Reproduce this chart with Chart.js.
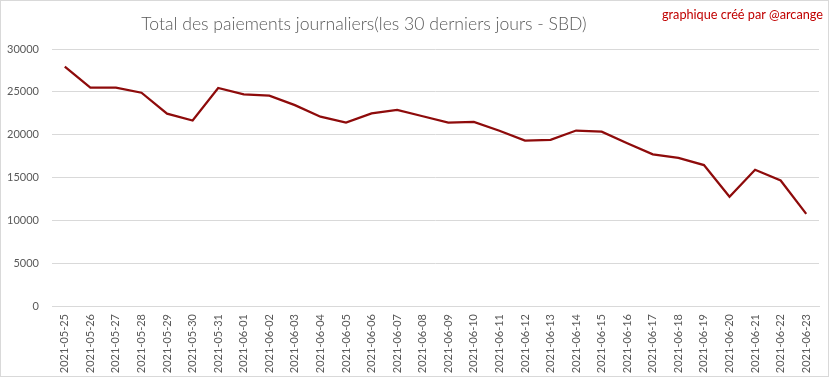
<!DOCTYPE html>
<html>
<head>
<meta charset="utf-8">
<script src="https://cdn.jsdelivr.net/npm/chart.js@4/dist/chart.umd.min.js"></script>
<style>
  html, body { margin: 0; padding: 0; background: #ffffff; }
  #wrap { position: relative; width: 833px; height: 379px; }
  #frame { position: absolute; left: 0; top: 0; width: 827px; height: 375px; border: 1px solid #D9D9D9; }
  canvas { position: absolute; left: 0; top: 0; }
</style>
</head>
<body>
<div id="wrap">
  <div id="frame"></div>
  <canvas id="c" width="833" height="379"></canvas>
</div>
<script>
const chartTitle = "Total des paiements journaliers(les 30 derniers jours - SBD)";
const creditText = "graphique créé par @arcange";

const dates = [
  "2021-05-25","2021-05-26","2021-05-27","2021-05-28","2021-05-29","2021-05-30","2021-05-31",
  "2021-06-01","2021-06-02","2021-06-03","2021-06-04","2021-06-05","2021-06-06","2021-06-07",
  "2021-06-08","2021-06-09","2021-06-10","2021-06-11","2021-06-12","2021-06-13","2021-06-14",
  "2021-06-15","2021-06-16","2021-06-17","2021-06-18","2021-06-19","2021-06-20","2021-06-21",
  "2021-06-22","2021-06-23"
];

const payments = [
  27950, 25500, 25500, 24900, 22450, 21650, 25450,
  24700, 24550, 23450, 22100, 21400, 22480, 22900,
  22150, 21400, 21500, 20450, 19300, 19400, 20480,
  20350, 19000, 17700, 17300, 16450, 12750, 15900,
  14650, 10750
];

const yTicks = [0, 5000, 10000, 15000, 20000, 25000, 30000];

const textPlugin = {
  id: 'texts',
  afterDraw(chart) {
    const ctx = chart.ctx;
    ctx.save();
    ctx.textBaseline = 'alphabetic';
    ctx.textAlign = 'center';
    ctx.fillStyle = '#595959';
    ctx.font = '300 17.6px Lato';
    ctx.fillText(chartTitle, 364, 30);
    ctx.textAlign = 'right';
    ctx.fillStyle = '#C00000';
    ctx.font = '12.7px Lato';
    ctx.fillText(creditText, 823, 19);
    ctx.restore();
  }
};

new Chart(document.getElementById('c'), {
  type: 'line',
  data: {
    labels: dates,
    datasets: [{
      data: payments,
      borderColor: '#8E0B0B',
      borderWidth: 2.25,
      pointRadius: 0,
      tension: 0,
      fill: false
    }]
  },
  options: {
    responsive: false,
    animation: false,
    layout: { padding: { top: 49, right: 14, left: 0, bottom: 0 } },
    plugins: { legend: { display: false }, tooltip: { enabled: false }, title: { display: false } },
    scales: {
      x: {
        offset: true,
        grid: { display: false, drawTicks: false, offset: true },
        border: { display: true, color: '#D9D9D9', width: 1 },
        ticks: {
          autoSkip: false,
          maxRotation: 90,
          minRotation: 90,
          padding: 8,
          color: '#595959',
          font: { family: 'Lato', size: 11 }
        },
        afterFit(scale) { scale.height = 73; }
      },
      y: {
        min: 0,
        max: 30000,
        afterBuildTicks(scale) { scale.ticks = yTicks.map(v => ({ value: v })); },
        grid: { color: '#D9D9D9', drawTicks: false, lineWidth: 1 },
        border: { display: false },
        ticks: {
          padding: 13,
          color: '#595959',
          font: { family: 'Lato', size: 11 },
          callback: v => String(v)
        },
        afterFit(scale) { scale.width = 52; }
      }
    }
  },
  plugins: [textPlugin]
});
</script>
</body>
</html>
